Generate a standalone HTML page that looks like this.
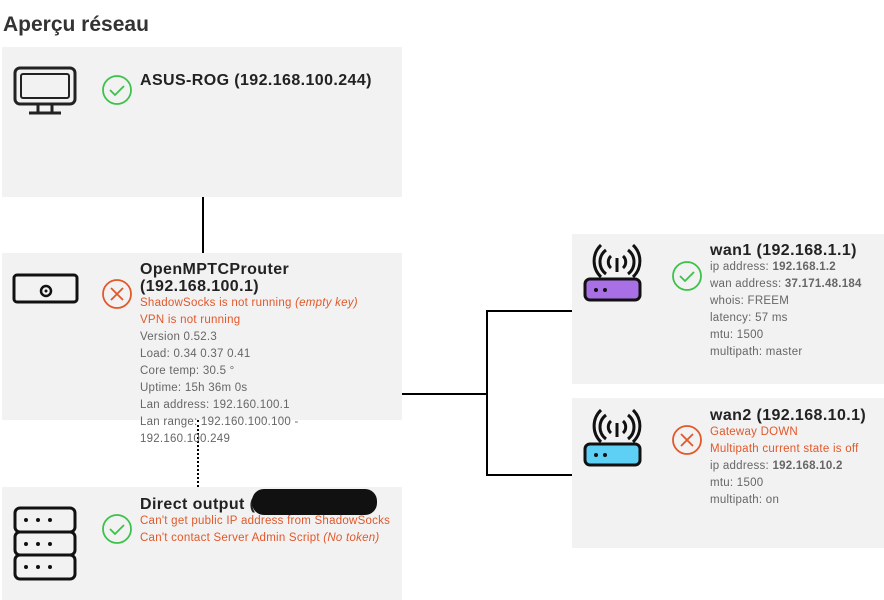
<!DOCTYPE html>
<html><head><meta charset="utf-8"><style>
body{margin:0;width:884px;height:600px;background:#fff;font-family:"Liberation Sans",sans-serif;position:relative;overflow:hidden}
.b{position:absolute;background:#f2f2f2}
.t{position:absolute;font-size:11.5px;line-height:17px;color:#666;letter-spacing:0.25px;white-space:nowrap}
.t h{display:block;font-weight:bold;font-size:16px;color:#222;line-height:17px;letter-spacing:0.4px}
.r{color:#e2582a}
.a{position:absolute;background:#000}
svg{position:absolute}
</style></head><body>
<div style="position:absolute;left:3px;top:13px;font-size:21px;font-weight:bold;color:#333">Aperçu réseau</div>

<div class="b" style="left:2px;top:47px;width:400px;height:150px"></div>
<div class="b" style="left:2px;top:253px;width:400px;height:167px"></div>
<div class="b" style="left:2px;top:487px;width:400px;height:113px"></div>
<div class="b" style="left:572px;top:234px;width:312px;height:150px"></div>
<div class="b" style="left:572px;top:398px;width:312px;height:150px"></div>

<div class="a" style="left:202px;top:197px;width:2px;height:56px"></div>
<div style="position:absolute;left:197px;top:420px;height:67px;border-left:2px dotted #000"></div>
<div class="a" style="left:402px;top:393px;width:86px;height:2px"></div>
<div class="a" style="left:486px;top:310px;width:2px;height:166px"></div>
<div class="a" style="left:486px;top:310px;width:86px;height:2px"></div>
<div class="a" style="left:486px;top:474px;width:86px;height:2px"></div>

<svg style="left:13px;top:66px" width="66" height="50"><rect x="2" y="2" width="60" height="36" rx="5" fill="none" stroke="#222" stroke-width="3"/><rect x="8" y="8" width="48" height="24" rx="2" fill="none" stroke="#222" stroke-width="2"/><path d="M25 38v8M39 38v8M16 47h32" stroke="#222" stroke-width="3"/></svg>
<svg style="left:12px;top:273px" width="68" height="32"><rect x="2" y="2" width="63" height="27" rx="3" fill="none" stroke="#111" stroke-width="3"/><circle cx="34" cy="18" r="5" fill="none" stroke="#111" stroke-width="2.5"/><circle cx="34" cy="18" r="1.5" fill="#111"/></svg>
<svg style="left:13px;top:506px" width="66" height="76"><g fill="none" stroke="#111" stroke-width="3"><rect x="2" y="2" width="60" height="24" rx="5"/><rect x="2" y="26" width="60" height="23" rx="5"/><rect x="2" y="49" width="60" height="24" rx="5"/></g><g fill="#111"><circle cx="13" cy="14" r="2"/><circle cx="25" cy="14" r="2"/><circle cx="37" cy="14" r="2"/><circle cx="13" cy="38" r="2"/><circle cx="25" cy="38" r="2"/><circle cx="37" cy="38" r="2"/><circle cx="13" cy="61" r="2"/><circle cx="25" cy="61" r="2"/><circle cx="37" cy="61" r="2"/></g></svg>
<svg style="left:583px;top:244px" width="66" height="62"><g fill="none" stroke="#111" stroke-width="3"><path d="M34 28V14"/><path d="M28 12a8 8 0 0 0 0 12M40 12a8 8 0 0 1 0 12M23 6a15 15 0 0 0 0 24M45 6a15 15 0 0 1 0 24M18 1a22 22 0 0 0 0 32M50 1a22 22 0 0 1 0 32"/><rect x="2" y="35" width="55" height="21" rx="5" fill="#a970e6"/></g><circle cx="13" cy="46" r="2" fill="#111"/><circle cx="22" cy="46" r="2" fill="#111"/></svg>
<svg style="left:583px;top:409px" width="66" height="62"><g fill="none" stroke="#111" stroke-width="3"><path d="M34 28V14"/><path d="M28 12a8 8 0 0 0 0 12M40 12a8 8 0 0 1 0 12M23 6a15 15 0 0 0 0 24M45 6a15 15 0 0 1 0 24M18 1a22 22 0 0 0 0 32M50 1a22 22 0 0 1 0 32"/><rect x="2" y="35" width="55" height="21" rx="5" fill="#5fd0f5"/></g><circle cx="13" cy="46" r="2" fill="#111"/><circle cx="22" cy="46" r="2" fill="#111"/></svg>

<svg style="left:101px;top:74px" width="32" height="32"><circle cx="16" cy="16" r="14" fill="none" stroke="#3cc24a" stroke-width="1.8"/><path d="M9 16l5 5 9-9" fill="none" stroke="#3cc24a" stroke-width="1.8"/></svg>
<svg style="left:101px;top:278px" width="32" height="32"><circle cx="16" cy="16" r="14" fill="none" stroke="#e2582a" stroke-width="1.8"/><path d="M10 10l12 12M22 10L10 22" stroke="#e2582a" stroke-width="1.8"/></svg>
<svg style="left:101px;top:513px" width="32" height="32"><circle cx="16" cy="16" r="14" fill="none" stroke="#3cc24a" stroke-width="1.8"/><path d="M9 16l5 5 9-9" fill="none" stroke="#3cc24a" stroke-width="1.8"/></svg>
<svg style="left:671px;top:260px" width="32" height="32"><circle cx="16" cy="16" r="14" fill="none" stroke="#3cc24a" stroke-width="1.8"/><path d="M9 16l5 5 9-9" fill="none" stroke="#3cc24a" stroke-width="1.8"/></svg>
<svg style="left:671px;top:424px" width="32" height="32"><circle cx="16" cy="16" r="14" fill="none" stroke="#e2582a" stroke-width="1.8"/><path d="M10 10l12 12M22 10L10 22" stroke="#e2582a" stroke-width="1.8"/></svg>

<div class="t" style="left:140px;top:72px"><h>ASUS-ROG (192.168.100.244)</h></div>
<div class="t" style="left:140px;top:261px"><h>OpenMPTCProuter<br>(192.168.100.1)</h><span class="r">ShadowSocks is not running <i>(empty key)</i></span><br><span class="r">VPN is not running</span><br>Version 0.52.3<br>Load: 0.34 0.37 0.41<br>Core temp: 30.5 °<br>Uptime: 15h 36m 0s<br>Lan address: 192.160.100.1<br>Lan range: 192.160.100.100 -<br>192.160.100.249</div>
<div class="t" style="left:140px;top:496px"><h>Direct output (</h><span class="r">Can't get public IP address from ShadowSocks</span><br><span class="r">Can't contact Server Admin Script <i>(No token)</i></span></div>
<div style="position:absolute;left:252px;top:489px;width:125px;height:26px;background:#111;border-radius:12px"></div>
<div class="t" style="left:710px;top:242px"><h>wan1 (192.168.1.1)</h>ip address: <b>192.168.1.2</b><br>wan address: <b>37.171.48.184</b><br>whois: FREEM<br>latency: 57 ms<br>mtu: 1500<br>multipath: master</div>
<div class="t" style="left:710px;top:407px"><h>wan2 (192.168.10.1)</h><span class="r">Gateway DOWN</span><br><span class="r">Multipath current state is off</span><br>ip address: <b>192.168.10.2</b><br>mtu: 1500<br>multipath: on</div>
</body></html>
